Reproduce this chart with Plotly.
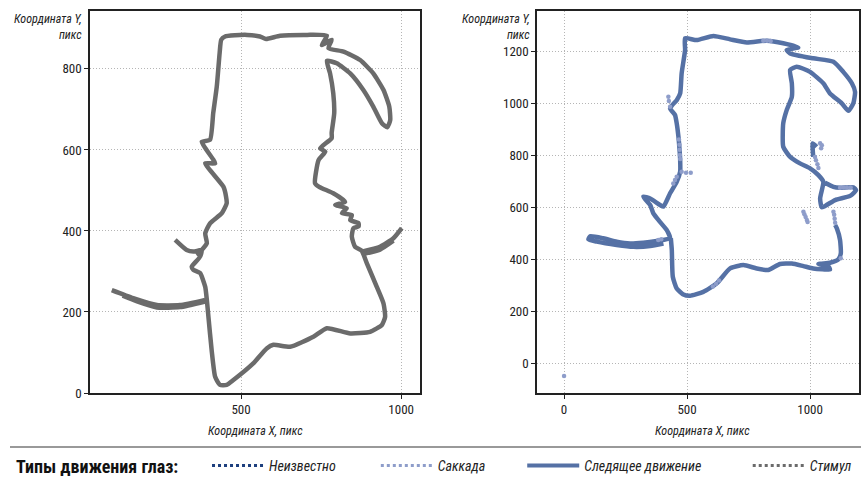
import plotly.graph_objects as go

# ---------- data ----------
# Stimulus outline (left panel), None separates strokes
stim_x = [294, 330, 351, 377, 372, 362, 372, 346, 351, 372, 388, 393, 398, 408, 419, 434, 455, 476, 538, 580, 601, 653, 726, 768, 841, 903, 940, 950, 945, 924, 893, 877, 856, 846, 851, 867, 867, 841, 846, 815, 830, 794, 825, 788, 744, 731, 742, 763, 747, 783, 783, 791, 788, 778, 768, 799, 841, 882, 913, 940, 957, 966, 963, 945, 913, 872, 820, 773, 783, 752, 768, 706, 622, 578, 559, 519, 481, 450, 438, 433, 424, 413, 403, 377, 419, 388, 445, 453, 455, 440, 403, 388, 393, 377,
          None, 96, 163, 237, 309, 388,
          None, 130, 175, 237, 309, 388,
          None, 877, 934, 976, 1002,
          None, 880, 934, 976]
stim_y = [378, 353, 349, 353, 337, 349, 337, 312, 304, 296, 262, 230, 188, 106, 40, 20, 20, 32, 73, 110, 119, 114, 139, 160, 147, 151, 168, 188, 221, 262, 320, 351, 361, 386, 407, 411, 419, 427, 439, 444, 456, 464, 472, 493, 509, 518, 575, 596, 604, 629, 642, 691, 740, 789, 820, 814, 789, 748, 707, 666, 656, 674, 707, 748, 789, 822, 843, 851, 872, 859, 882, 884, 882, 874, 880, 884, 883, 880, 872, 839, 756, 691, 625, 620, 567, 567, 509, 485, 468, 444, 419, 394, 370, 353,
          None, 254, 234, 217, 217, 230,
          None, 240, 226, 211, 212, 226,
          None, 349, 361, 382, 407,
          None, 343, 354, 376]

# Smooth pursuit (right panel)
pur_x = [404, 350, 282, 214, 133, 99, 106, 160, 214, 268, 322, 377, 431, 417, 390, 363, 350, 322, 350, 390, 404, 431, 458, 472, 472, 469, 465, 458, 451, 431, 458, 472, 478, 492, 492,
         539, 607, 675, 743, 824, 891, 952, 905, 919, 1013, 1095, 1135, 1170, 1183, 1176, 1156, 1129, 1081, 1054, 1000, 946, 919, 926, 926, 905, 891, 891, 919, 959, 1000, 1034, 1054,
         1041, 1048, 1102, 1163, 1187, 1176, 1122, 1095, 1061,
         None, 1013, 1011, 1027,
         None, 1102, 1109, 1122, 1125, 1115, 1081, 1034, 1074, 1081, 1013, 973, 926, 878, 830, 783, 729, 675, 621, 566, 512, 485, 458, 442, 438, 434]
pur_y = [460, 450, 447, 454, 467, 476, 488, 480, 467, 460, 463, 470, 480, 512, 543, 576, 608, 640, 633, 608, 602, 653, 697, 736, 781, 826, 870, 922, 954, 980, 1011, 1037, 1114, 1204, 1249,
         1242, 1258, 1245, 1233, 1240, 1230, 1214, 1204, 1191, 1172, 1159, 1120, 1076, 1043, 999, 970, 999, 1037, 1076, 1120, 1140, 1127, 1076, 1024, 973, 922, 832, 793, 768, 749, 723, 697,
         633, 599, 627, 643, 665, 676, 674, 678, 693,
         None, 793, 845, 832,
         None, 531, 518, 473, 422, 399, 386, 381, 372, 360, 364, 373, 383, 381, 358, 364, 377, 364, 307, 274, 259, 264, 287, 332, 435, 480]

# Saccades (right panel)
sac_x = [0, 424, 426, 431, 467, 469, 470, 471, 472, 478, 496, 515, 458, 451, 444, 810, 825, 840,
         605, 618, 630, 383, 395, 1041, 1048, 1045, 1020, 1024, 1030, 1034, 1122, 1135, 1150, 1165,
         973, 977, 982, 987, 990, 1095, 1098, 1100, 1102, 1125]
sac_y = [-50, 1024, 1008, 986, 860, 840, 820, 800, 785, 736, 732, 732, 717, 704, 691, 1240, 1240, 1239,
         295, 305, 318, 473, 476, 845, 838, 826, 793, 780, 765, 750, 674, 675, 675, 675,
         582, 572, 562, 550, 543, 582, 570, 555, 540, 403]

legend_names = ["Неизвестно", "Саккада", "Следящее движение", "Стимул"]
legend_pad = [11, 10, 13, 0]   # trailing non-breaking spaces for spacing

# ---------- style ----------
W, H = 861, 477
FONT = "Roboto Condensed, Roboto, sans-serif"
C_STIM = "#6b6b6b"
C_PUR = "#5571a5"
C_SAC = "#8e9dca"
C_UNK = "#1d3f7e"

def px2x(p):
    return p / W

def py2y(p):
    return 1 - p / H

fig = go.Figure()

fig.add_trace(go.Scatter(x=stim_x, y=stim_y, mode="lines",
                         line=dict(color=C_STIM, width=4.5, shape="spline", smoothing=0.5),
                         showlegend=False, xaxis="x", yaxis="y", hoverinfo="skip"))
fig.add_trace(go.Scatter(x=pur_x, y=pur_y, mode="lines",
                         line=dict(color=C_PUR, width=4.5, shape="spline", smoothing=0.5),
                         showlegend=False, xaxis="x2", yaxis="y2", hoverinfo="skip"))
fig.add_trace(go.Scatter(x=sac_x, y=sac_y, mode="markers", marker=dict(color=C_SAC, size=4.5),
                         showlegend=False, xaxis="x2", yaxis="y2", hoverinfo="skip"))

# legend entries
leg_styles = [dict(color=C_UNK, width=3, dash="dot"),
              dict(color=C_SAC, width=3, dash="dot"),
              dict(color=C_PUR, width=4),
              dict(color=C_STIM, width=3, dash="dot")]
for name, pad, ls in zip(legend_names, legend_pad, leg_styles):
    fig.add_trace(go.Scatter(x=[None], y=[None], mode="lines", line=ls, name=name + "\u00a0" * pad,
                             xaxis="x2", yaxis="y2"))

axis_common = dict(showline=True, linecolor="#222", linewidth=1.5, mirror=True,
                   showgrid=True, gridcolor="#b5b5b5", griddash="1px,2px", gridwidth=1,
                   zeroline=False, ticks="outside", ticklen=4, tickcolor="#222", tickwidth=1,
                   tickfont=dict(family=FONT, size=13, color="#222"), automargin=False)

fig.update_layout(
    width=W, height=H, autosize=False,
    margin=dict(l=0, r=0, t=0, b=0, autoexpand=False),
    paper_bgcolor="white", plot_bgcolor="white",
    xaxis=dict(domain=[px2x(90), px2x(420)], range=[28, 1059], tickvals=[500, 1000],
               anchor="y", **axis_common),
    yaxis=dict(domain=[py2y(393), py2y(11)], range=[0, 943], tickvals=[0, 200, 400, 600, 800],
               anchor="x", **axis_common),
    xaxis2=dict(domain=[px2x(537), px2x(859)], range=[-110, 1199], tickvals=[0, 500, 1000],
                anchor="y2", **axis_common),
    yaxis2=dict(domain=[py2y(393), py2y(11)], range=[-115, 1354],
                tickvals=[0, 200, 400, 600, 800, 1000, 1200], anchor="x2", **axis_common),
    showlegend=True,
    legend=dict(orientation="h", x=px2x(14), y=py2y(467), xanchor="left", yanchor="middle",
                bgcolor="rgba(0,0,0,0)",
                font=dict(family=FONT, size=14, color="#222", style="italic"),
                title=dict(text="Типы движения глаз:" + "\u00a0" * 5, side="left",
                           font=dict(family=FONT, size=18, color="#111", weight="bold",
                                     style="normal")),
                itemwidth=52, tracegroupgap=0),
)

title_font = dict(family=FONT, size=12, color="#222", style="italic")
annots = [
    dict(text="Координата Y,<br>пикс", x=px2x(84), y=py2y(10), xanchor="right", yanchor="top", align="right"),
    dict(text="Координата Y,<br>пикс", x=px2x(532), y=py2y(10), xanchor="right", yanchor="top", align="right"),
    dict(text="Координата X, пикс", x=px2x(255), y=py2y(431), xanchor="center", yanchor="middle"),
    dict(text="Координата X, пикс", x=px2x(702), y=py2y(431), xanchor="center", yanchor="middle"),
]
for a in annots:
    fig.add_annotation(xref="paper", yref="paper", showarrow=False, font=title_font, **a)

fig.add_shape(type="line", xref="paper", yref="paper", x0=px2x(10), x1=1, y0=py2y(447), y1=py2y(447),
              line=dict(color="#777", width=1.5))

fig.write_html("out.html", config={"displayModeBar": False, "responsive": False},
               post_script="document.body.style.margin='0';document.body.style.padding='0';")
